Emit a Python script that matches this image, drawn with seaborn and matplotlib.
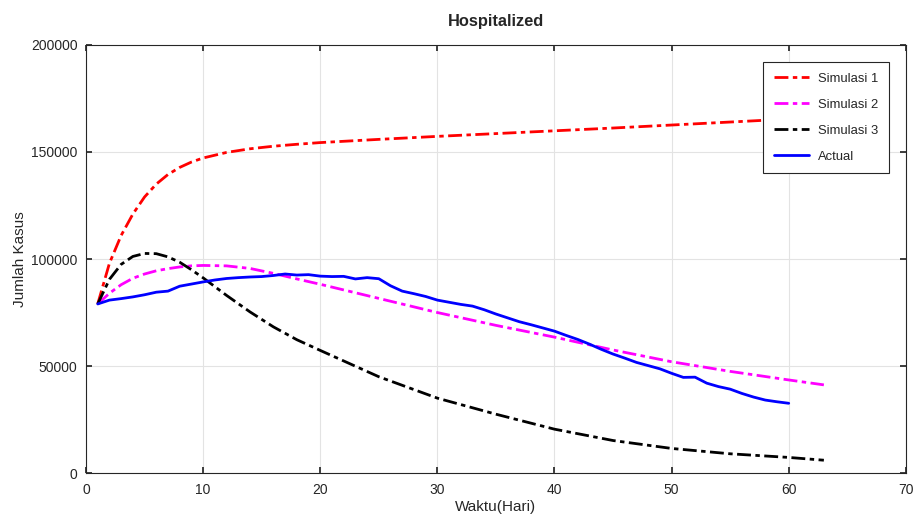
import pandas as pd
import matplotlib
matplotlib.use("Agg")
import matplotlib.pyplot as plt
from matplotlib.ticker import MultipleLocator, FuncFormatter
import seaborn as sns

# simulation days (sampled) and values
sim_days = [1, 2, 3, 4, 5, 6, 7, 8, 9, 10, 12, 14, 16, 18, 20, 25, 30, 35, 40, 45, 50, 55, 60, 63]
sim1 = [79000, 98000, 111000, 121000, 129000, 135000, 139500, 142800, 145300, 147200,
        149800, 151500, 152700, 153600, 154400, 155900, 157300, 158600, 159900, 161200,
        162600, 164000, 165400, 166300]
sim2 = [79000, 84000, 88000, 91000, 93000, 94500, 95500, 96300, 96800, 97000,
        96800, 95600, 93300, 90700, 88200, 81600, 75000, 69000, 63500, 57500,
        52000, 47500, 43500, 41200]
sim3 = [79000, 90500, 97500, 101200, 102600, 102500, 101000, 98500, 95000, 91200,
        83000, 75300, 68300, 62300, 57300, 45000, 35000, 27500, 20500, 15200,
        11500, 9000, 7300, 6000]

actual_days = list(range(1, 61))
actual = [79000, 80800, 81500, 82300, 83300, 84500, 85000, 87300, 88300, 89300,
          90200, 90900, 91300, 91600, 91800, 92300, 93000, 92500, 92700, 92000,
          91800, 91900, 90700, 91300, 90800, 87500, 85000, 83800, 82500, 80800,
          79800, 78800, 78000, 76300, 74300, 72500, 70700, 69300, 67800, 66300,
          64300, 62400, 60200, 57800, 55600, 53700, 51700, 50200, 48700, 46600,
          44700, 44800, 42000, 40400, 39200, 37200, 35500, 34100, 33300, 32600]


def main():
    sns.set_theme(style="ticks")
    plt.rcParams['font.family'] = ['Liberation Sans', 'DejaVu Sans']

    fig = plt.figure(figsize=(9.15, 5.17), dpi=100)
    ax = fig.add_axes([0.094, 0.085, 0.896, 0.828])

    dashdot = (5, 1.6, 1.6, 1.6)
    series = [
        (sim_days, sim1, 'Simulasi 1', '#ff0000', dashdot),
        (sim_days, sim2, 'Simulasi 2', '#ff00ff', dashdot),
        (sim_days, sim3, 'Simulasi 3', '#000000', dashdot),
        (actual_days, actual, 'Actual', '#0000ff', None),
    ]
    for xs, ys, name, color, dash in series:
        df = pd.DataFrame({'x': xs, 'y': ys})
        line = sns.lineplot(data=df, x='x', y='y', ax=ax, color=color, linewidth=2.0,
                            label=name)
        if dash is not None:
            line.lines[-1].set_dashes(dash)

    ax.set_xlim(0, 70)
    ax.set_ylim(0, 200000)
    ax.xaxis.set_major_locator(MultipleLocator(10))
    ax.yaxis.set_major_locator(MultipleLocator(50000))
    ax.yaxis.set_major_formatter(FuncFormatter(lambda v, p: f"{int(v)}"))
    ax.grid(True, color='#e3e3e3', linewidth=0.8)
    ax.tick_params(direction='in', length=4, labelsize=10, colors='#262626',
                   top=True, right=True)
    ax.tick_params(axis='x', pad=7.5)
    ax.tick_params(axis='y', pad=6)
    for s in ax.spines.values():
        s.set_color('#262626')
        s.set_linewidth(0.8)

    ax.set_xlabel('Waktu(Hari)', fontsize=11, labelpad=2)
    ax.set_ylabel('Jumlah Kasus', fontsize=11, labelpad=3)
    ax.set_title('Hospitalized', fontsize=11.8, fontweight='bold', pad=14)

    leg = ax.legend(loc='upper right', bbox_to_anchor=(0.979, 0.960), fontsize=9.4,
                    frameon=True, fancybox=False, handlelength=2.75,
                    borderpad=0.8, labelspacing=1.07, handletextpad=0.65,
                    borderaxespad=0)
    leg.get_frame().set_edgecolor('#262626')
    leg.get_frame().set_linewidth(0.8)
    leg.get_frame().set_alpha(1.0)
    leg.set_zorder(5)

    fig.savefig('out.png', dpi=100)
    plt.close(fig)


if __name__ == "__main__":
    main()
